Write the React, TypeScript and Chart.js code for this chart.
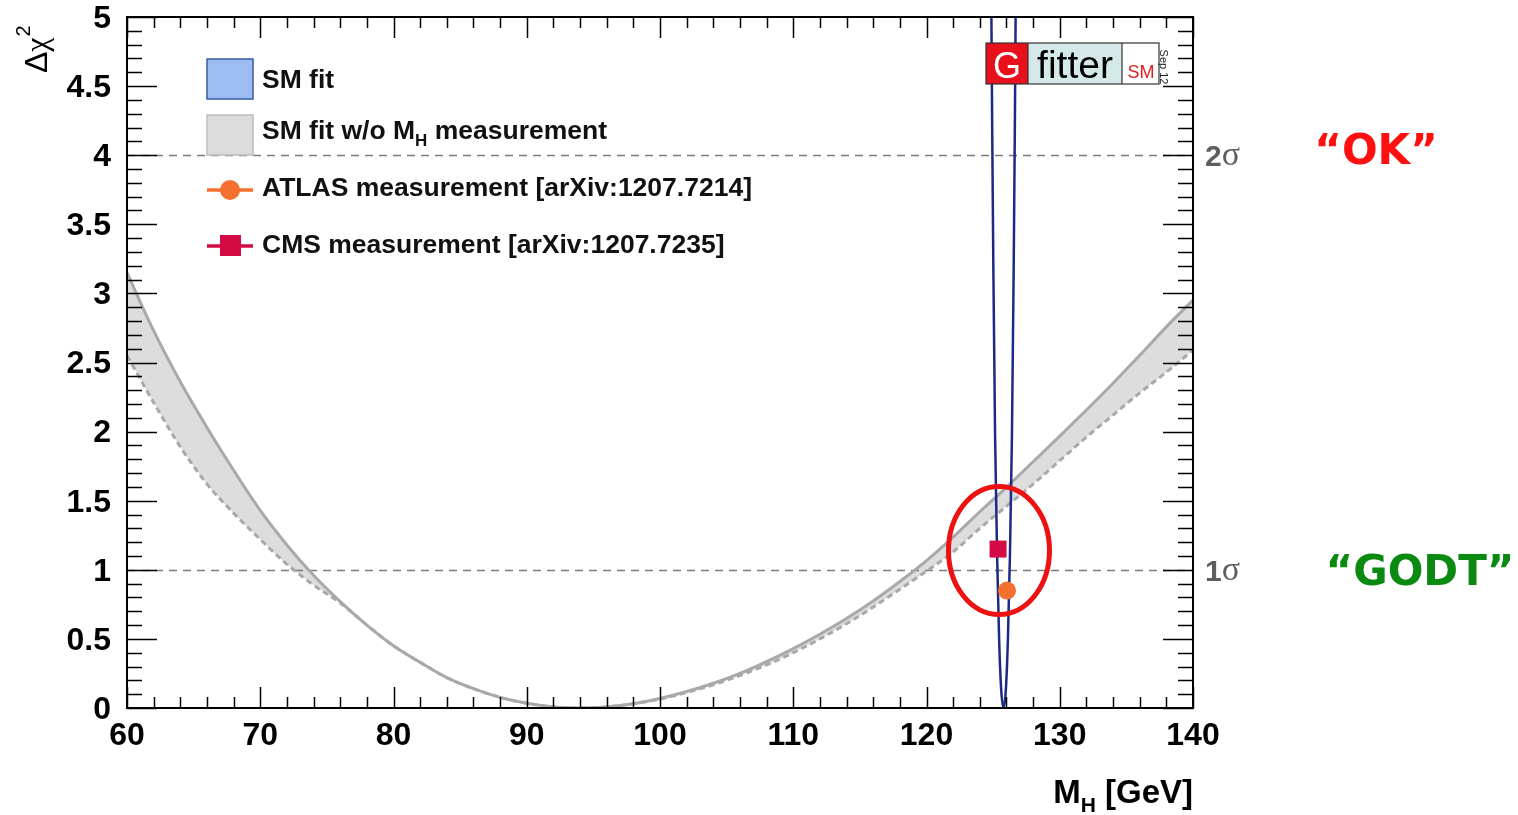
import React, { useEffect, useRef } from "react";
import { Chart, registerables } from "chart.js";

Chart.register(...registerables);

// ---------- data ----------
const MH_GRID = [60, 62, 64, 66, 68, 70, 72, 74, 76, 78, 80, 82, 84, 86, 88, 90, 92, 94, 96, 98, 100,
  102, 104, 106, 108, 110, 112, 114, 116, 118, 120, 122, 124, 126, 128, 130, 132, 134, 136, 138, 140];

// SM fit w/o M_H measurement: upper (solid) edge of the grey band
const WO_MH_UPPER = [3.15, 2.73, 2.36, 2.03, 1.72, 1.43, 1.18, 0.96, 0.77, 0.60, 0.45, 0.33, 0.22, 0.14,
  0.077, 0.034, 0.008, 0.0, 0.008, 0.031, 0.069, 0.119, 0.179, 0.251, 0.336, 0.43, 0.534, 0.647, 0.774,
  0.915, 1.067, 1.237, 1.42, 1.597, 1.782, 1.967, 2.156, 2.35, 2.552, 2.758, 2.952];

// SM fit w/o M_H measurement: lower (dashed) edge of the grey band
const WO_MH_LOWER = [2.55, 2.21, 1.89, 1.62, 1.41, 1.22, 1.04, 0.89, 0.76, 0.60, 0.45, 0.33, 0.22, 0.14,
  0.077, 0.034, 0.008, 0.0, 0.008, 0.031, 0.065, 0.112, 0.168, 0.235, 0.312, 0.40, 0.50, 0.61, 0.73,
  0.86, 0.99, 1.13, 1.30, 1.46, 1.62, 1.79, 1.96, 2.12, 2.28, 2.43, 2.59];

// SM fit (with M_H measurement)
const SM_FIT_MH = [124.85, 124.93, 125.02, 125.15, 125.30, 125.45, 125.60, 125.78, 125.96, 126.11, 126.26, 126.41, 126.54, 126.63, 126.71];
const SM_FIT_CHI2 = [5.3, 4.2, 3.15, 1.95, 1.10, 0.50, 0.14, 0.0, 0.14, 0.50, 1.10, 1.95, 3.15, 4.2, 5.3];

const ATLAS_MH = [126.04];
const ATLAS_CHI2 = [0.85];
const CMS_MH = [125.37];
const CMS_CHI2 = [1.15];

const X_MIN = 60;
const X_MAX = 140;
const X_STEP = 10;
const X_MINOR_STEP = 2;
const Y_MIN = 0;
const Y_MAX = 5;
const Y_STEP = 0.5;
const Y_MINOR_STEP = 0.1;

const SIGMA_LEVELS = [1, 4];
const SIGMA_LABELS = ["1", "2"];
const VERDICT_LEVELS = [1, 4];
const VERDICT_LABELS = ["\u201CGODT\u201D", "\u201COK\u201D"];
const VERDICT_COLORS = ["#0b8a12", "#ff1010"];

const LEGEND_LABELS = ["SM fit", "SM fit w/o M", "ATLAS measurement [arXiv:1207.7214]", "CMS measurement [arXiv:1207.7235]"];

// highlighted region (ellipse) in data units
const HIGHLIGHT_MH = 125.44;
const HIGHLIGHT_CHI2 = 1.14;
const HIGHLIGHT_RMH = 3.79;
const HIGHLIGHT_RCHI2 = 0.463;

const SANS = "'Liberation Sans', Arial, Helvetica, sans-serif";

const pts = (xs: number[], ys: number[]) => xs.map((x, i) => ({ x, y: ys[i] }));

const decorPlugin = {
  id: "decor",
  beforeDatasetsDraw(chart: any) {
    const { ctx, chartArea: a, scales } = chart;
    const y = scales.y;
    ctx.save();
    ctx.strokeStyle = "#7a7a7a";
    ctx.lineWidth = 1.5;
    ctx.setLineDash([8, 6]);
    SIGMA_LEVELS.forEach((v) => {
      const py = Math.round(y.getPixelForValue(v)) + 0.5;
      ctx.beginPath();
      ctx.moveTo(a.left, py);
      ctx.lineTo(a.right, py);
      ctx.stroke();
    });
    ctx.restore();
  },
  afterDatasetsDraw(chart: any) {
    const { ctx, chartArea: a, scales } = chart;
    const x = scales.x;
    const y = scales.y;
    ctx.save();

    // highlight ellipse
    const cx = x.getPixelForValue(HIGHLIGHT_MH);
    const cy = y.getPixelForValue(HIGHLIGHT_CHI2);
    const rx = x.getPixelForValue(HIGHLIGHT_MH + HIGHLIGHT_RMH) - cx;
    const ry = cy - y.getPixelForValue(HIGHLIGHT_CHI2 + HIGHLIGHT_RCHI2);
    ctx.strokeStyle = "#ee1111";
    ctx.lineWidth = 5;
    ctx.beginPath();
    ctx.ellipse(cx, cy, rx, ry, 0, 0, Math.PI * 2);
    ctx.stroke();

    // ticks on all four sides (inward)
    ctx.strokeStyle = "#000";
    ctx.lineWidth = 1.5;
    ctx.beginPath();
    const nx = Math.round((X_MAX - X_MIN) / X_MINOR_STEP);
    const perMajorX = Math.round(X_STEP / X_MINOR_STEP);
    for (let i = 0; i <= nx; i++) {
      const px = Math.round(x.getPixelForValue(X_MIN + i * X_MINOR_STEP)) + 0.5;
      const len = i % perMajorX === 0 ? 21 : 11;
      ctx.moveTo(px, a.bottom);
      ctx.lineTo(px, a.bottom - len);
      ctx.moveTo(px, a.top);
      ctx.lineTo(px, a.top + len);
    }
    const ny = Math.round((Y_MAX - Y_MIN) / Y_MINOR_STEP);
    const perMajorY = Math.round(Y_STEP / Y_MINOR_STEP);
    for (let i = 0; i <= ny; i++) {
      const py = Math.round(y.getPixelForValue(Y_MIN + i * Y_MINOR_STEP)) + 0.5;
      const len = i % perMajorY === 0 ? 30 : 15;
      ctx.moveTo(a.left, py);
      ctx.lineTo(a.left + len, py);
      ctx.moveTo(a.right, py);
      ctx.lineTo(a.right - len, py);
    }
    ctx.stroke();
    ctx.lineWidth = 2;
    ctx.strokeRect(a.left, a.top, a.right - a.left, a.bottom - a.top);

    // legend
    const lx = a.left + 80;
    const LF = `bold 26.5px ${SANS}`;
    ctx.textBaseline = "middle";
    ctx.textAlign = "left";
    ctx.font = LF;
    // SM fit
    ctx.fillStyle = "#9dbcf2";
    ctx.fillRect(lx, a.top + 42, 46, 40);
    ctx.strokeStyle = "#3a5aa6";
    ctx.lineWidth = 1.5;
    ctx.strokeRect(lx, a.top + 42, 46, 40);
    ctx.fillStyle = "#111";
    ctx.fillText(LEGEND_LABELS[0], lx + 55, a.top + 64);
    // SM fit w/o
    ctx.fillStyle = "#dcdcdc";
    ctx.fillRect(lx, a.top + 98, 46, 40);
    ctx.strokeStyle = "#bdbdbd";
    ctx.strokeRect(lx, a.top + 98, 46, 40);
    ctx.fillStyle = "#111";
    let tx = lx + 55;
    const ty = a.top + 115;
    ctx.fillText(LEGEND_LABELS[1], tx, ty);
    tx += ctx.measureText(LEGEND_LABELS[1]).width;
    ctx.font = `bold 17px ${SANS}`;
    ctx.fillText("H", tx, ty + 9);
    tx += ctx.measureText("H").width;
    ctx.font = LF;
    ctx.fillText(" measurement", tx, ty);
    // ATLAS
    const ay = a.top + 173;
    ctx.strokeStyle = "#f4702e";
    ctx.lineWidth = 3.5;
    ctx.beginPath();
    ctx.moveTo(lx, ay);
    ctx.lineTo(lx + 46, ay);
    ctx.stroke();
    ctx.fillStyle = "#f4702e";
    ctx.beginPath();
    ctx.arc(lx + 23, ay, 10, 0, Math.PI * 2);
    ctx.fill();
    ctx.fillStyle = "#111";
    ctx.fillText(LEGEND_LABELS[2], lx + 55, ay - 1);
    // CMS
    const cyy = a.top + 229;
    ctx.strokeStyle = "#d40a45";
    ctx.beginPath();
    ctx.moveTo(lx, cyy);
    ctx.lineTo(lx + 46, cyy);
    ctx.stroke();
    ctx.fillStyle = "#d40a45";
    ctx.fillRect(lx + 13, cyy - 11, 21, 21);
    ctx.fillStyle = "#111";
    ctx.fillText(LEGEND_LABELS[3], lx + 55, cyy);

    // Gfitter logo
    const gx = a.right - 207;
    const gy = a.top + 26;
    const gh = 41;
    ctx.fillStyle = "#e8101a";
    ctx.fillRect(gx, gy, 42, gh);
    ctx.fillStyle = "#d6e9e9";
    ctx.fillRect(gx + 42, gy, 94, gh);
    ctx.fillStyle = "#ffffff";
    ctx.fillRect(gx + 136, gy, 37, gh);
    ctx.strokeStyle = "#333";
    ctx.lineWidth = 1.2;
    ctx.strokeRect(gx, gy, 173, gh);
    ctx.beginPath();
    ctx.moveTo(gx + 42, gy);
    ctx.lineTo(gx + 42, gy + gh);
    ctx.moveTo(gx + 136, gy);
    ctx.lineTo(gx + 136, gy + gh);
    ctx.stroke();
    ctx.textBaseline = "alphabetic";
    ctx.textAlign = "center";
    ctx.fillStyle = "#fff";
    ctx.font = `36px ${SANS}`;
    ctx.fillText("G", gx + 21, gy + 35);
    ctx.fillStyle = "#000";
    ctx.font = `39px ${SANS}`;
    ctx.fillText("fitter", gx + 89, gy + 35);
    ctx.fillStyle = "#e02020";
    ctx.font = `18px ${SANS}`;
    ctx.fillText("SM", gx + 155, gy + 35);
    ctx.save();
    ctx.translate(gx + 177, gy + 24);
    ctx.rotate(Math.PI / 2);
    ctx.fillStyle = "#222";
    ctx.font = `11px ${SANS}`;
    ctx.textAlign = "center";
    ctx.textBaseline = "middle";
    ctx.fillText("Sep 12", 0, 0);
    ctx.restore();

    // sigma labels right of the frame
    ctx.textAlign = "left";
    ctx.textBaseline = "middle";
    SIGMA_LEVELS.forEach((v, i) => {
      const py = y.getPixelForValue(v) + 3;
      ctx.fillStyle = "#5e5e5e";
      ctx.font = `bold 30px ${SANS}`;
      ctx.fillText(SIGMA_LABELS[i], a.right + 12, py);
      const w = ctx.measureText(SIGMA_LABELS[i]).width;
      ctx.font = `34px 'Liberation Serif', 'DejaVu Serif', serif`;
      ctx.fillText("\u03C3", a.right + 12 + w, py - 2);
    });

    // verdict labels
    ctx.textAlign = "center";
    VERDICT_LEVELS.forEach((v, i) => {
      const py = y.getPixelForValue(v) + (i === 0 ? 4 : -2);
      ctx.fillStyle = VERDICT_COLORS[i];
      ctx.font = `bold 42px 'DejaVu Sans', sans-serif`;
      ctx.fillText(VERDICT_LABELS[i], i === 0 ? a.right + 227 : a.right + 183, py);
    });

    // y axis title
    ctx.save();
    ctx.translate(47, a.top + 56);
    ctx.rotate(-Math.PI / 2);
    ctx.textAlign = "left";
    ctx.textBaseline = "alphabetic";
    ctx.fillStyle = "#000";
    ctx.font = `32px ${SANS}`;
    ctx.fillText("\u0394", 0, 0);
    let yx = ctx.measureText("\u0394").width;
    ctx.font = `32px 'Liberation Serif', 'DejaVu Serif', serif`;
    ctx.fillText("\u03C7", yx, 0);
    yx += ctx.measureText("\u03C7").width;
    ctx.font = `20px ${SANS}`;
    ctx.fillText("2", yx + 1, -17);
    ctx.restore();

    // x axis title
    ctx.textAlign = "left";
    ctx.textBaseline = "alphabetic";
    ctx.fillStyle = "#000";
    const part1 = "M";
    const part2 = " [GeV]";
    const TF = `bold 33px ${SANS}`;
    const SF = `bold 21px ${SANS}`;
    ctx.font = TF;
    const w1 = ctx.measureText(part1).width;
    const w3 = ctx.measureText(part2).width;
    ctx.font = SF;
    const w2 = ctx.measureText("H").width;
    const startX = a.right - (w1 + w2 + w3);
    const base = 803;
    ctx.font = TF;
    ctx.fillText(part1, startX, base);
    ctx.font = SF;
    ctx.fillText("H", startX + w1, base + 9);
    ctx.font = TF;
    ctx.fillText(part2, startX + w1 + w2, base);

    ctx.restore();
  },
};

export default function App() {
  const ref = useRef<HTMLCanvasElement | null>(null);
  useEffect(() => {
    const canvas = ref.current;
    if (!canvas) return;
    const chart = new Chart(canvas, {
      type: "line",
      data: {
        datasets: [
          {
            label: "CMS",
            data: pts(CMS_MH, CMS_CHI2),
            showLine: false,
            pointStyle: "rect",
            pointRadius: 12,
            pointBackgroundColor: "#d40a45",
            pointBorderWidth: 0,
            borderColor: "#d40a45",
          },
          {
            label: "ATLAS",
            data: pts(ATLAS_MH, ATLAS_CHI2),
            showLine: false,
            pointStyle: "circle",
            pointRadius: 9,
            pointBackgroundColor: "#f4702e",
            pointBorderWidth: 0,
            borderColor: "#f4702e",
          },
          {
            label: "SM fit",
            data: pts(SM_FIT_MH, SM_FIT_CHI2),
            borderColor: "#1c2a86",
            borderWidth: 2.5,
            pointRadius: 0,
            cubicInterpolationMode: "monotone",
            fill: false,
          },
          {
            label: "SM fit w/o MH (upper)",
            data: pts(MH_GRID, WO_MH_UPPER),
            borderColor: "#a9a9a9",
            borderWidth: 3,
            pointRadius: 0,
            cubicInterpolationMode: "monotone",
            backgroundColor: "#dddddd",
            fill: 4,
          },
          {
            label: "SM fit w/o MH (lower)",
            data: pts(MH_GRID, WO_MH_LOWER),
            borderColor: "#a9a9a9",
            borderWidth: 3,
            borderDash: [6, 4],
            pointRadius: 0,
            cubicInterpolationMode: "monotone",
            fill: false,
          },
        ],
      },
      options: {
        animation: false,
        responsive: false,
        maintainAspectRatio: false,
        devicePixelRatio: 1,
        layout: { padding: { left: 0, right: 325, top: 17, bottom: 0 } },
        plugins: {
          legend: { display: false },
          tooltip: { enabled: false },
          filler: { drawTime: "beforeDatasetsDraw" },
        },
        scales: {
          x: {
            type: "linear",
            min: X_MIN,
            max: X_MAX,
            grid: { display: false, drawTicks: false },
            border: { display: false },
            ticks: {
              stepSize: X_STEP,
              padding: 12,
              color: "#000",
              maxRotation: 0,
              autoSkip: false,
              font: { family: SANS, size: 32, weight: "bold", lineHeight: 1 },
            },
            afterFit: (s: any) => {
              s.height = 107;
              s.paddingLeft = 0;
              s.paddingRight = 0;
            },
          },
          y: {
            type: "linear",
            min: Y_MIN,
            max: Y_MAX,
            grid: { display: false, drawTicks: false },
            border: { display: false },
            ticks: {
              stepSize: Y_STEP,
              padding: 16,
              labelOffset: 2,
              color: "#000",
              autoSkip: false,
              callback: (v: any) => String(Number(v)),
              font: { family: SANS, size: 32, weight: "bold", lineHeight: 1 },
            },
            afterFit: (s: any) => {
              s.width = 127;
              s.paddingTop = 0;
              s.paddingBottom = 0;
            },
          },
        },
      },
      plugins: [decorPlugin],
    } as any);
    return () => chart.destroy();
  }, []);

  return (
    <div style={{ position: "absolute", left: 0, top: 0, width: 1518, height: 815, background: "#fff" }}>
      <canvas ref={ref} width={1518} height={815} style={{ display: "block", width: 1518, height: 815 }} />
    </div>
  );
}
